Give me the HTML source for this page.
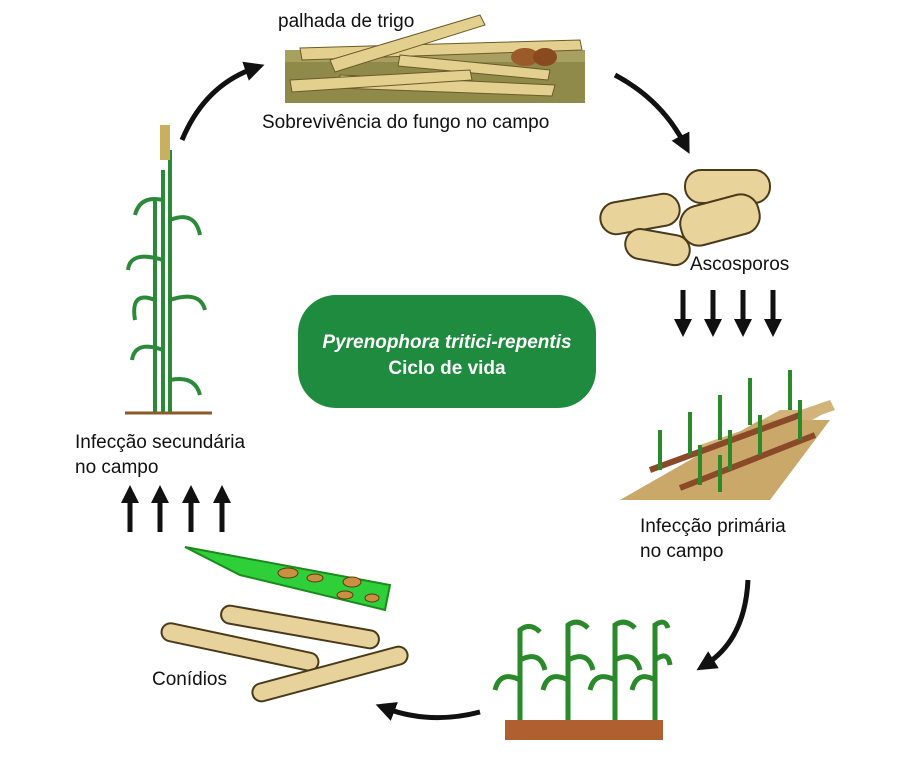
<!DOCTYPE html>
<html><head><meta charset="utf-8"><style>
body{margin:0;background:#fff;width:902px;height:765px;overflow:hidden;font-family:"Liberation Sans",sans-serif}
.t{position:absolute;font-size:19px;color:#111;white-space:nowrap}
</style></head><body>
<svg width="902" height="765" style="position:absolute;left:0;top:0">
<defs>
<marker id="ah" markerWidth="4" markerHeight="4" refX="2" refY="2" orient="auto" markerUnits="strokeWidth"><path d="M0,0 L4,2 L0,4 z" fill="#111"/></marker>
<marker id="ah2" markerWidth="3.6" markerHeight="3.6" refX="1.2" refY="1.8" orient="auto" markerUnits="strokeWidth"><path d="M0,0 L3.6,1.8 L0,3.6 z" fill="#111"/></marker>
</defs>
<rect x="285" y="55" width="300" height="48" fill="#8f8a4a"/>
<rect x="285" y="50" width="300" height="12" fill="#a8a060"/>
<g stroke="#6b5a2a" stroke-width="1" fill="#e3cf8e">
<polygon points="300,48 580,40 582,50 302,60"/>
<polygon points="340,75 555,85 552,96 338,88"/>
<polygon points="330,60 480,15 485,25 335,72"/>
<polygon points="400,55 550,70 548,80 398,66"/>
<polygon points="290,80 470,70 472,80 292,92"/>
</g>
<ellipse cx="525" cy="57" rx="14" ry="9" fill="#9a5a2a"/><ellipse cx="545" cy="57" rx="12" ry="9" fill="#8a4a20"/>
<path d="M182,140 Q205,85 255,68" fill="none" stroke="#111" stroke-width="5" marker-end="url(#ah)"/>
<path d="M615,75 Q662,100 685,145" fill="none" stroke="#111" stroke-width="5" marker-end="url(#ah)"/>
<path d="M748,580 Q745,640 705,665" fill="none" stroke="#111" stroke-width="5" marker-end="url(#ah)"/>
<path d="M480,712 Q430,725 385,708" fill="none" stroke="#111" stroke-width="5" marker-end="url(#ah)"/>
<g stroke="#111" stroke-width="5" marker-end="url(#ah2)">
<line x1="683" y1="290" x2="683" y2="325"/><line x1="713" y1="290" x2="713" y2="325"/><line x1="743" y1="290" x2="743" y2="325"/><line x1="773" y1="290" x2="773" y2="325"/>
<line x1="130" y1="532" x2="130" y2="497"/><line x1="160" y1="532" x2="160" y2="497"/><line x1="191" y1="532" x2="191" y2="497"/><line x1="222" y1="532" x2="222" y2="497"/>
</g>
<g fill="#e8d49a" stroke="#4a3a1a" stroke-width="2">
<rect x="685" y="170" width="85" height="33" rx="16"/>
<rect x="600" y="198" width="80" height="32" rx="16" transform="rotate(-10 640 214)"/>
<rect x="680" y="200" width="80" height="40" rx="18" transform="rotate(-15 720 220)"/>
<rect x="625" y="232" width="65" height="30" rx="15" transform="rotate(10 657 247)"/>
</g>
<rect x="298" y="295" width="298" height="113" rx="38" fill="#1f8b3e"/>
<polygon points="620,500 780,410 830,410 670,500" fill="#d2b47a"/>
<polygon points="700,445 830,400 835,410 705,455" fill="#d2b47a"/>
<polygon points="620,500 760,420 830,420 770,500" fill="#c9a86a"/>
<g stroke="#8a4a2a" stroke-width="6">
<line x1="650" y1="470" x2="800" y2="415"/><line x1="680" y1="488" x2="815" y2="435"/>
</g>
<g stroke="#2a8a2a" stroke-width="4" fill="#3aa03a">
<path d="M660,470 V430 M690,455 V412 M720,440 V395 M750,425 V378 M790,410 V370 M700,485 V445 M730,470 V430 M760,455 V415 M800,440 V400 M720,492 V455" />
</g>
<rect x="505" y="720" width="158" height="20" fill="#b06030"/>
<g stroke="#2a8a2a" stroke-width="5" fill="none">
<path d="M520,720 V630 Q530,622 540,632 M520,680 Q500,670 495,690 M520,660 Q540,650 545,670"/>
<path d="M568,720 V625 Q578,618 588,628 M568,680 Q548,670 543,690 M568,660 Q588,650 593,670"/>
<path d="M615,720 V625 Q625,618 635,628 M615,680 Q595,670 590,690 M615,660 Q635,650 640,670"/>
<path d="M655,720 V625 Q665,618 668,628 M655,680 Q637,670 632,690 M655,660 Q668,650 670,665"/>
</g>
<polygon points="185,547 390,585 385,610 240,575" fill="#2fcf3a" stroke="#1a8a1a" stroke-width="2"/>
<g fill="#c89040" stroke="#5a3a10"><ellipse cx="288" cy="573" rx="10" ry="5"/><ellipse cx="315" cy="578" rx="8" ry="4"/><ellipse cx="352" cy="582" rx="9" ry="5"/><ellipse cx="345" cy="595" rx="8" ry="4"/><ellipse cx="372" cy="598" rx="7" ry="4"/></g>
<g fill="#e6d29a" stroke="#4a3a1a" stroke-width="2">
<rect x="220" y="618" width="160" height="18" rx="9" transform="rotate(10 300 627)"/>
<rect x="160" y="638" width="160" height="18" rx="9" transform="rotate(12 240 647)"/>
<rect x="250" y="665" width="160" height="18" rx="9" transform="rotate(-15 330 674)"/>
</g>
<line x1="125" y1="413" x2="212" y2="413" stroke="#8a5a2a" stroke-width="3"/>
<g stroke="#2a8a3a" stroke-width="4" fill="none">
<path d="M163,412 V170 M170,412 V150 M155,412 V200"/>
<path d="M163,350 Q135,340 132,360 M170,300 Q200,290 205,310 M163,260 Q130,250 128,270 M170,220 Q195,210 200,235 M155,300 Q130,290 135,320 M170,380 Q195,375 200,395 M163,200 Q140,195 135,215"/>
</g>
<rect x="160" y="125" width="10" height="35" fill="#c9b060"/>
</svg>
<div class="t" style="left:278px;top:11px">palhada de trigo</div>
<div class="t" style="left:262px;top:112px">Sobrevivência do fungo no campo</div>
<div class="t" style="left:690px;top:254px">Ascosporos</div>
<div class="t" style="left:298px;top:330px;width:298px;text-align:center;color:#fff;font-weight:bold;line-height:26px"><i>Pyrenophora tritici-repentis</i><br>Ciclo de vida</div>
<div class="t" style="left:640px;top:514px;line-height:25px">Infecção primária<br>no campo</div>
<div class="t" style="left:75px;top:430px;line-height:25px">Infecção secundária<br>no campo</div>
<div class="t" style="left:152px;top:669px">Conídios</div>
</body></html>
